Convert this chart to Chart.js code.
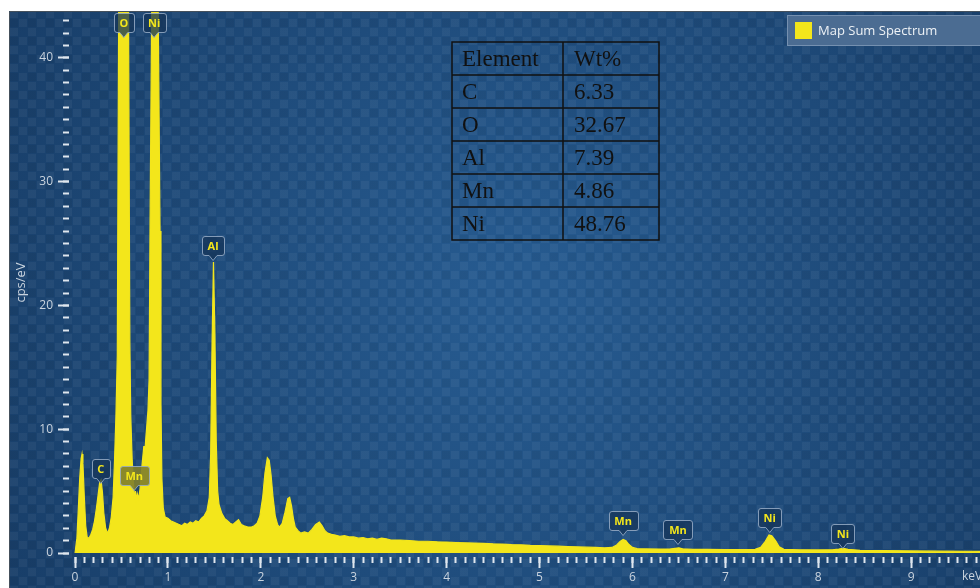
<!DOCTYPE html>
<html>
<head>
<meta charset="utf-8">
<script src="https://cdn.jsdelivr.net/npm/chart.js@4.4.1/dist/chart.umd.min.js"></script>
<style>
  html, body { margin: 0; padding: 0; background: #fff; }
</style>
</head>
<body>
<canvas id="spectrum" width="980" height="588"></canvas>
<script>
// spectrum: energy (keV) and counts (cps/eV)
const energies = [
  0.00, 0.02, 0.035, 0.05, 0.065, 0.075, 0.085, 0.10, 0.115, 0.13, 0.15, 0.17, 0.19, 0.21, 0.23, 0.25, 0.265, 0.28, 0.295,
  0.31, 0.33, 0.35, 0.37, 0.39, 0.41, 0.425, 0.44, 0.455, 0.47, 0.49, 0.51, 0.525, 0.545, 0.565, 0.575, 0.59, 0.60, 0.615,
  0.63, 0.64, 0.65, 0.66, 0.67, 0.685, 0.70, 0.72, 0.74, 0.755, 0.785, 0.797, 0.807, 0.825, 0.83, 0.86, 0.89, 0.895, 0.915,
  0.925, 0.935, 0.95, 0.97, 1.00, 1.03, 1.06, 1.09, 1.12, 1.15, 1.18, 1.21, 1.24, 1.27, 1.30, 1.33, 1.36, 1.39, 1.42, 1.445,
  1.46, 1.475, 1.49, 1.505, 1.52, 1.535, 1.55, 1.58, 1.61, 1.64, 1.67, 1.70, 1.73, 1.76, 1.79, 1.82, 1.86, 1.90, 1.93, 1.96,
  1.99, 2.02, 2.045, 2.07, 2.09, 2.11, 2.13, 2.155, 2.18, 2.20, 2.23, 2.26, 2.29, 2.31, 2.33, 2.35, 2.37, 2.40, 2.43, 2.47,
  2.51, 2.55, 2.59, 2.63, 2.66, 2.69, 2.72, 2.76, 2.80, 2.85, 2.90, 2.95, 3.00, 3.05, 3.10, 3.15, 3.20, 3.25, 3.30, 3.35,
  3.40, 3.50, 3.60, 3.70, 3.80, 3.90, 4.00, 4.10, 4.20, 4.30, 4.40, 4.50, 4.60, 4.70, 4.80, 4.90, 5.00, 5.10, 5.20, 5.30,
  5.40, 5.50, 5.60, 5.70, 5.78, 5.83, 5.87, 5.90, 5.93, 5.96, 6.00, 6.05, 6.15, 6.30, 6.40, 6.46, 6.50, 6.54, 6.65, 6.80,
  7.00, 7.20, 7.32, 7.38, 7.43, 7.47, 7.50, 7.54, 7.58, 7.63, 7.80, 8.00, 8.15, 8.22, 8.27, 8.32, 8.45, 8.70, 9.00, 9.30,
  9.60, 9.75
];
const counts = [
  0.0, 1.2, 3.5, 6.0, 7.6, 8.0, 7.2, 4.5, 2.2, 1.3, 1.2, 1.5, 1.9, 2.6, 3.6, 4.8, 5.7, 5.9, 4.9,
  3.2, 2.0, 1.6, 2.0, 2.9, 4.5, 7.5, 11, 16, 45, 80, 95, 100, 95, 80, 45, 17, 11, 7.5,
  5.5, 4.3, 5.0, 4.2, 4.8, 4.4, 5.2, 7.0, 8.6, 8.6, 11.5, 14, 26, 44, 80, 85, 80, 44, 26,
  12, 6, 3.6, 2.9, 2.8, 2.6, 2.5, 2.4, 2.3, 2.2, 2.4, 2.3, 2.5, 2.4, 2.6, 2.5, 2.8, 3.0, 3.4, 4.5,
  8, 17, 23.5, 18, 9, 5, 3.9, 3.2, 2.8, 2.6, 2.4, 2.3, 2.5, 2.7, 2.3, 2.2, 2.1, 2.1, 2.2, 2.4,
  3.0, 4.5, 6.5, 7.7, 7.5, 6.3, 4.6, 3.0, 2.3, 2.1, 2.4, 3.3, 4.4, 4.5, 3.8, 2.8, 2.1, 1.8, 1.6, 1.7,
  1.6, 1.9, 2.3, 2.5, 2.2, 1.8, 1.6, 1.5, 1.45, 1.35, 1.4, 1.3, 1.3, 1.2, 1.25, 1.15, 1.2, 1.1, 1.2, 1.15,
  1.05, 1.05, 1.0, 0.95, 0.95, 0.9, 0.88, 0.85, 0.82, 0.8, 0.78, 0.74, 0.72, 0.68, 0.66, 0.62, 0.6, 0.57, 0.55, 0.52,
  0.5, 0.47, 0.45, 0.42, 0.45, 0.65, 0.95, 1.1, 1.0, 0.7, 0.45, 0.35, 0.33, 0.32, 0.32, 0.38, 0.42, 0.34, 0.3, 0.3,
  0.28, 0.28, 0.3, 0.45, 0.95, 1.45, 1.4, 1.0, 0.5, 0.3, 0.26, 0.25, 0.26, 0.32, 0.38, 0.3, 0.22, 0.2, 0.17, 0.15,
  0.14, 0.13
];

// peak markers: element, line energy (keV), height of the marker tip (cps/eV)
const peakNames = ['O', 'Ni', 'Al', 'C', 'Mn', 'Mn', 'Mn', 'Ni', 'Ni'];
const peakEnergies = [0.525, 0.851, 1.486, 0.277, 0.637, 5.899, 6.490, 7.478, 8.265];
const peakLevels = [41.7, 41.7, 23.7, 5.65, 5.1, 1.45, 0.75, 1.7, 0.4];

// composition table
const tableHeader = ['Element', 'Wt%'];
const tableElements = ['C', 'O', 'Al', 'Mn', 'Ni'];
const tableWt = ['6.33', '32.67', '7.39', '4.86', '48.76'];

const seriesName = 'Map Sum Spectrum';
const xMin = -0.065, xMax = 9.741, yMax = 43.7;

const yellow = '#f3e61b';
const labelColor = '#c9d3de';
const tickColor = '#dfe6ee';
const uiFont = '"Open Sans", "Noto Sans", sans-serif';

// background panel with the soft checker pattern
const panelPlugin = {
  id: 'panel',
  beforeDraw(chart) {
    const ctx = chart.ctx;
    ctx.save();
    ctx.fillStyle = '#ffffff';
    ctx.fillRect(0, 0, chart.width, chart.height);
    const grad = ctx.createRadialGradient(520, 300, 40, 520, 300, 620);
    grad.addColorStop(0, '#265a8f');
    grad.addColorStop(1, '#173c66');
    ctx.fillStyle = grad;
    ctx.fillRect(9, 11, chart.width - 9, chart.height - 11);

    const tile = document.createElement('canvas');
    tile.width = 18; tile.height = 18;
    const t = tile.getContext('2d');
    t.fillStyle = 'rgba(255,255,255,0.045)';
    t.fillRect(1, 1, 8, 8);
    t.fillRect(10, 10, 8, 8);
    t.fillStyle = 'rgba(0,0,0,0.05)';
    t.fillRect(10, 1, 8, 8);
    ctx.fillStyle = ctx.createPattern(tile, 'repeat');
    ctx.fillRect(9, 11, chart.width - 9, chart.height - 11);

    ctx.strokeStyle = '#44505c';
    ctx.lineWidth = 1;
    ctx.beginPath();
    ctx.moveTo(9.5, chart.height);
    ctx.lineTo(9.5, 11.5);
    ctx.lineTo(chart.width, 11.5);
    ctx.stroke();
    ctx.restore();
  }
};

function drawTag(ctx, cx, tipY, text, highlight) {
  ctx.font = 'bold 11px ' + uiFont;
  const w = Math.round(ctx.measureText(text).width) + 11;
  const h = 19, p = 5, r = 2.5;
  const x0 = Math.round(cx - w / 2) + 0.5, x1 = x0 + w;
  const y1 = Math.round(tipY - p) + 0.5, y0 = y1 - h;
  ctx.beginPath();
  ctx.moveTo(x0 + r, y0);
  ctx.lineTo(x1 - r, y0);
  ctx.quadraticCurveTo(x1, y0, x1, y0 + r);
  ctx.lineTo(x1, y1 - r);
  ctx.quadraticCurveTo(x1, y1, x1 - r, y1);
  ctx.lineTo(cx + 4, y1);
  ctx.lineTo(cx, y1 + p);
  ctx.lineTo(cx - 4, y1);
  ctx.lineTo(x0 + r, y1);
  ctx.quadraticCurveTo(x0, y1, x0, y1 - r);
  ctx.lineTo(x0, y0 + r);
  ctx.quadraticCurveTo(x0, y0, x0 + r, y0);
  ctx.closePath();
  ctx.fillStyle = highlight ? 'rgba(128,126,44,0.9)' : 'rgba(22,52,88,0.75)';
  ctx.fill();
  ctx.strokeStyle = 'rgba(150,172,198,0.85)';
  ctx.lineWidth = 1;
  ctx.stroke();
  ctx.fillStyle = yellow;
  ctx.textAlign = 'center';
  ctx.textBaseline = 'middle';
  ctx.fillText(text, cx, y0 + h / 2 + 1);
}

const overlayPlugin = {
  id: 'overlay',
  afterDraw(chart) {
    const ctx = chart.ctx;
    const xs = chart.scales.x, ys = chart.scales.y;
    ctx.save();

    // peak markers
    peakNames.forEach((name, i) => {
      drawTag(ctx, xs.getPixelForValue(peakEnergies[i]), ys.getPixelForValue(peakLevels[i]), name, i === 4);
    });

    // unit at the end of the energy axis
    ctx.font = '12px ' + uiFont;
    ctx.fillStyle = labelColor;
    ctx.textAlign = 'left';
    ctx.textBaseline = 'middle';
    ctx.fillText('keV', 962, 577);

    // legend
    ctx.fillStyle = '#4b6c92';
    ctx.fillRect(787, 15, chart.width - 787, 31);
    ctx.strokeStyle = 'rgba(160,180,205,0.5)';
    ctx.strokeRect(787.5, 15.5, chart.width - 787, 30);
    ctx.fillStyle = yellow;
    ctx.fillRect(795, 22, 17, 17);
    ctx.font = '13px ' + uiFont;
    ctx.fillStyle = '#eef2f6';
    ctx.fillText(seriesName, 818, 31);

    // composition table
    const tx0 = 452, tx1 = 563, tx2 = 659, ty0 = 42, rowH = 33;
    const rows = [tableHeader].concat(tableElements.map((el, i) => [el, tableWt[i]]));
    ctx.strokeStyle = '#111';
    ctx.lineWidth = 1.5;
    ctx.strokeRect(tx0, ty0, tx2 - tx0, rowH * rows.length);
    ctx.beginPath();
    ctx.moveTo(tx1, ty0);
    ctx.lineTo(tx1, ty0 + rowH * rows.length);
    for (let r = 1; r < rows.length; r++) {
      ctx.moveTo(tx0, ty0 + r * rowH);
      ctx.lineTo(tx2, ty0 + r * rowH);
    }
    ctx.stroke();
    ctx.font = '23px "Liberation Serif", "DejaVu Serif", serif';
    ctx.fillStyle = '#111';
    rows.forEach((row, r) => {
      const cy = ty0 + r * rowH + rowH / 2 + 1;
      ctx.fillText(row[0], tx0 + 10, cy);
      ctx.fillText(row[1], tx1 + 11, cy);
    });
    ctx.restore();
  }
};

const tickGrid = (len) => ({
  drawOnChartArea: false,
  tickLength: len,
  tickWidth: 2,
  tickColor: tickColor
});

// keep the plot area exactly where the reference has it
const noPad = (s) => { s.paddingTop = 0; s.paddingBottom = 0; s.paddingLeft = 0; s.paddingRight = 0; };

new Chart(document.getElementById('spectrum'), {
  type: 'line',
  data: {
    datasets: [{
      label: seriesName,
      data: energies.map((e, i) => ({ x: e, y: counts[i] })),
      borderColor: yellow,
      backgroundColor: yellow,
      borderWidth: 1.2,
      fill: 'origin',
      pointRadius: 0,
      tension: 0
    }]
  },
  options: {
    responsive: false,
    animation: false,
    devicePixelRatio: 1,
    layout: { padding: { top: 12, left: 0, right: 0, bottom: 0 } },
    plugins: { legend: { display: false }, tooltip: { enabled: false } },
    scales: {
      x: {
        type: 'linear', position: 'bottom', min: xMin, max: xMax,
        grid: { display: false, drawTicks: false },
        border: { display: false },
        ticks: {
          stepSize: 1, includeBounds: false, autoSkip: false, maxRotation: 0,
          color: labelColor, font: { family: uiFont, size: 12 }, padding: 17
        },
        afterFit: (s) => { s.height = 35; noPad(s); }
      },
      xMinor: {
        type: 'linear', display: true, position: { y: -0.35 }, min: xMin, max: xMax,
        grid: tickGrid(6), border: { display: false },
        ticks: { display: false, stepSize: 0.1, includeBounds: false, autoSkip: false },
        afterFit: noPad
      },
      xMajor: {
        type: 'linear', display: true, position: { y: -0.35 }, min: xMin, max: xMax,
        grid: tickGrid(11), border: { display: false },
        ticks: { display: false, stepSize: 1, includeBounds: false, autoSkip: false },
        afterFit: noPad
      },
      y: {
        type: 'linear', position: 'left', min: 0, max: yMax,
        grid: { display: false, drawTicks: false },
        border: { display: false },
        ticks: {
          stepSize: 10, includeBounds: false,
          color: labelColor, font: { family: uiFont, size: 12 }, padding: 16
        },
        title: {
          display: true, text: 'cps/eV', color: labelColor,
          font: { family: uiFont, size: 13 }, padding: { top: 13, bottom: 0 }
        },
        afterFit: (s) => { s.width = 69; noPad(s); }
      },
      yMinor: {
        type: 'linear', display: true, position: { x: xMin }, min: 0, max: yMax,
        grid: tickGrid(6), border: { display: false },
        ticks: { display: false, stepSize: 1, includeBounds: false, autoSkip: false },
        afterFit: noPad
      },
      yMajor: {
        type: 'linear', display: true, position: { x: xMin }, min: 0, max: yMax,
        grid: tickGrid(11), border: { display: false },
        ticks: { display: false, stepSize: 10, includeBounds: false, autoSkip: false },
        afterFit: noPad
      }
    }
  },
  plugins: [panelPlugin, overlayPlugin]
});
</script>
</body>
</html>
